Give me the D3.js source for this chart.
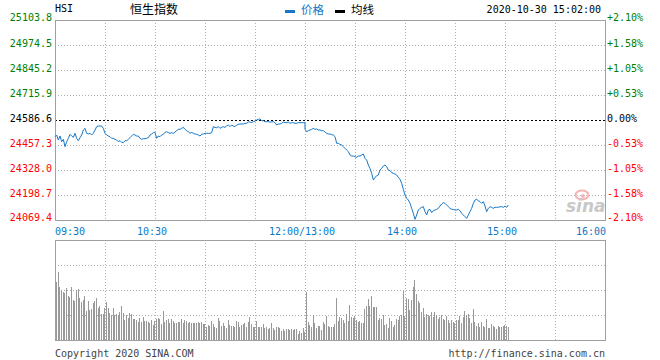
<!DOCTYPE html>
<html>
<head>
<meta charset="utf-8">
<script src="https://cdn.jsdelivr.net/npm/d3@7/dist/d3.min.js"></script>
<style>
html,body{margin:0;padding:0;background:#fff;}
svg{display:block;}
</style>
</head>
<body>
<svg id="chart" width="660" height="360"></svg>
<script>
// ---- DATA ----
const symbol = "HSI";
const title = "恒生指数";
const timestamp = "2020-10-30 15:02:00";
const prevClose = 24586.6;
const priceTicks = ["25103.8","24974.5","24845.2","24715.9","24586.6","24457.3","24328.0","24198.7","24069.4"];
const pctTicks = ["+2.10%","+1.58%","+1.05%","+0.53%","0.00%","-0.53%","-1.05%","-1.58%","-2.10%"];
const timeTicks = ["09:30","10:30","12:00/13:00","14:00","15:00","16:00"];
const timeTickMinutes = [0, 60, 150, 210, 270, 330];

// 09:30 - 12:00, one value per minute
const morningPrice = [
24500.4,24509.0,24483.2,24503.8,24474.5,24486.6,24448.7,24474.5,24491.8,24512.5,
24503.8,24496.9,24517.6,24491.8,24479.7,24495.2,24509.0,24534.9,24543.5,24517.6,
24514.2,24517.6,24509.0,24517.6,24534.9,24552.1,24555.5,24555.5,24555.5,24543.5,
24517.6,24509.0,24503.8,24500.4,24491.8,24491.8,24486.6,24483.2,24474.5,24479.7,
24471.1,24469.4,24479.7,24479.7,24486.6,24495.2,24503.8,24512.5,24509.0,24503.8,
24503.8,24491.8,24486.6,24490.0,24490.0,24491.8,24495.2,24509.0,24514.2,24521.1,
24522.8,24491.8,24503.8,24500.4,24509.0,24512.5,24522.8,24526.2,24521.1,24517.6,
24521.1,24517.6,24524.5,24531.4,24538.3,24538.3,24543.5,24548.6,24538.3,24531.4,
24526.2,24517.6,24522.8,24517.6,24514.2,24512.5,24509.0,24503.8,24512.5,24514.2,
24517.6,24517.6,24517.6,24517.6,24521.1,24552.1,24548.6,24546.9,24552.1,24543.5,
24548.6,24552.1,24548.6,24555.5,24560.7,24552.1,24560.7,24555.5,24552.1,24560.7,
24564.2,24565.9,24565.9,24565.9,24569.4,24569.4,24576.3,24576.3,24572.8,24578.0,
24581.4,24586.6,24590.0,24591.8,24583.1,24583.1,24578.0,24578.0,24578.0,24576.3,
24576.3,24578.0,24572.8,24560.7,24565.9,24565.9,24569.4,24576.3,24572.8,24572.8,
24576.3,24569.4,24572.8,24572.8,24569.4,24569.4,24572.8,24572.8,24572.8,24572.8,
24572.8];
// 13:00 - 15:02, one value per minute
const afternoonPrice = [
24538.3,24526.2,24531.4,24534.9,24538.3,24543.5,24538.3,24540.0,24534.9,24534.9,
24531.4,24531.4,24524.5,24517.6,24514.2,24514.2,24510.7,24509.0,24500.4,24465.9,
24465.9,24460.7,24457.3,24448.7,24440.0,24431.4,24422.8,24405.5,24400.4,24400.4,
24396.9,24393.5,24400.4,24400.4,24405.5,24410.7,24388.3,24379.7,24353.9,24336.6,
24310.8,24276.3,24290.0,24296.9,24302.1,24328.0,24336.6,24348.7,24353.9,24345.2,
24328.0,24324.5,24314.2,24310.8,24307.3,24302.1,24290.0,24279.7,24259.0,24228.0,
24198.7,24181.5,24172.8,24155.6,24129.7,24103.9,24072.8,24095.2,24121.1,24129.7,
24134.9,24138.3,24112.5,24095.2,24121.1,24124.5,24107.3,24117.6,24121.1,24124.5,
24129.7,24141.8,24152.1,24159.0,24155.6,24146.9,24138.3,24129.7,24124.5,24124.5,
24121.1,24121.1,24124.5,24117.6,24103.9,24095.2,24086.6,24078.0,24095.2,24112.5,
24129.7,24155.6,24172.8,24176.3,24169.4,24164.2,24155.6,24164.2,24141.8,24112.5,
24129.7,24138.3,24134.9,24129.7,24134.9,24134.9,24134.9,24138.3,24138.3,24134.9,
24141.8,24134.9,24146.9];

// volume per minute (relative units, panel max = 100)
const morningVolume = [
58.3,68.3,53.3,50,48.3,46.7,51.7,44,43.3,53.3,
40,39.3,50,50.7,41.7,38.3,40,44,29.3,39.3,
30,31,36.7,39,41.7,31.7,34,26,26,31.7,
38.3,31.7,27.3,25,31.7,25,26,25,28.3,34,
26.7,20,25,21.7,27.3,26,21,21,20,18.3,
21.7,18.3,23.3,19,19,17.7,17.3,20,15,19.3,
21,22.3,20.7,16,29.3,18.3,20,21,16.7,21,
19,16.7,16.7,18.3,18.3,21,17.3,20,19,17.3,
18.3,16.7,17.3,16.7,17.3,18.3,16.7,17.7,16,16,
12.7,15,14,19,16,12.7,11.7,21.7,19,14,
16.7,14,11.7,20,15,14,14,12.7,19,18.3,
13.3,15,16,16.7,12.7,18.3,22.7,16,13.3,13.3,
19,12.7,12.7,12.7,16,11.7,12.7,10.7,11.7,16.7,
11.7,10,12.7,12.7,11.7,9,10.7,9.3,10.7,10.7,
10,10.7,10,10.7,10.7,6,9.3,6.7,11.7,8.3];
const afternoonVolume = [
48.3,18.3,15,12.7,25,17.3,11.7,14,14,10,
18.3,16,24,14,12.7,12.7,12.7,16,41.7,19.3,
22.7,21.7,20,16.7,26,19.3,35,23.3,21.7,24,
20,18.3,19.3,17.3,16.7,30.7,34,40.7,34,44,
32.7,33.3,32.7,20,21.7,20.7,25,15,16,11.7,
21.7,19,12.7,15,20.7,20,24,25,49.3,24,
41.7,40.7,30,40,52.7,60,46,39.3,36.7,28.3,
31.7,22.7,26,25,24,28.3,23.3,28.3,25,20.7,
22.7,25,20.7,20,24,20,16.7,20,18.3,17.3,
20,20,24,17.3,23.3,29.3,25,26,21.7,16.7,
31,18.3,14,16.7,12.7,18.3,14,12.7,21,11.7,
12.3,16,14,12.7,10.7,14,12.7,12.7,14,15,
14,12.7];

// ---- LAYOUT ----
const L = 55, R = 605;
const mainTop = 20, mainBot = 220;
const volTop = 240, volBot = 340;
const LINE = "#1677c8", TIMECOL = "#0c78c4", GRID = "#b0b0b0", BORDER = "#a0a0a0";
const GREEN = "#008000", RED = "#ff0000";
const MONO = "'DejaVu Sans Mono', 'Liberation Mono', monospace";
const CJK = "'Noto Sans CJK SC', sans-serif";

const svg = d3.select("#chart");
const x = d3.scaleLinear().domain([0, 330]).range([L, R]);
const y = d3.scaleLinear().domain([+priceTicks[8], +priceTicks[0]]).range([mainBot, mainTop]);
const yv = d3.scaleLinear().domain([0, 100]).range([volBot, volTop]);

const pricePts = morningPrice.map((p, i) => ({m: i, p}))
  .concat(afternoonPrice.map((p, i) => ({m: 150 + i, p})));
const volPts = morningVolume.map((v, i) => ({m: i, v}))
  .concat(afternoonVolume.map((v, i) => ({m: 150 + i, v})));

const gridMinutes = d3.range(30, 330, 30);

// ---- MAIN PANEL GRID ----
const gMain = svg.append("g");
gMain.selectAll("line.vg").data(gridMinutes).join("line")
  .attr("x1", d => Math.round(x(d)) + 0.5).attr("x2", d => Math.round(x(d)) + 0.5)
  .attr("y1", mainTop).attr("y2", mainBot)
  .attr("stroke", GRID).attr("stroke-dasharray", "1,2");
priceTicks.forEach((t, i) => {
  if (i === 0 || i === 8 || i === 4) return;
  const yy = Math.round(y(+t)) + 0.5;
  gMain.append("line").attr("x1", L).attr("x2", R).attr("y1", yy).attr("y2", yy)
    .attr("stroke", GRID).attr("stroke-dasharray", "1,2");
});
// prev close dashed
gMain.append("line").attr("x1", L).attr("x2", R)
  .attr("y1", Math.round(y(prevClose)) + 0.5).attr("y2", Math.round(y(prevClose)) + 0.5)
  .attr("stroke", "#000").attr("stroke-dasharray", "2,2");

// watermark
const wm = svg.append("g");
wm.append("ellipse").attr("cx", 582).attr("cy", 195).attr("rx", 6.5).attr("ry", 4.5)
  .attr("fill", "none").attr("stroke", "#f4b4b4").attr("stroke-width", 2);
wm.append("circle").attr("cx", 583).attr("cy", 196).attr("r", 2).attr("fill", "#f4b4b4");
wm.append("text").attr("x", 566).attr("y", 212).text("sina")
  .attr("font-family", "'DejaVu Sans', sans-serif").attr("font-style", "italic").attr("font-weight", "bold")
  .attr("font-size", 17).attr("fill", "#c8c8c8");

// border main
svg.append("rect").attr("x", L + 0.5).attr("y", mainTop + 0.5).attr("width", R - L).attr("height", mainBot - mainTop)
  .attr("fill", "none").attr("stroke", BORDER);

// price line
svg.append("path").datum(pricePts)
  .attr("d", d3.line().x(d => x(d.m)).y(d => y(d.p)))
  .attr("fill", "none").attr("stroke", LINE).attr("stroke-width", 1);

// left / right axis labels
priceTicks.forEach((t, i) => {
  const yy = y(+t);
  const by = i === 0 ? yy + 0.5 : (i === 8 ? yy + 1 : yy + 2);
  const col = i < 4 ? GREEN : (i === 4 ? "#000" : RED);
  svg.append("text").attr("x", 52).attr("y", by).attr("text-anchor", "end")
    .attr("font-family", MONO).attr("font-size", 10).attr("fill", col).text(t);
  svg.append("text").attr("x", 607).attr("y", by).attr("text-anchor", "start")
    .attr("font-family", MONO).attr("font-size", 10).attr("fill", col).text(pctTicks[i]);
});

// time labels
timeTicks.forEach((t, i) => {
  const m = timeTickMinutes[i];
  let anchor = "middle", xx = x(m) - 3;
  if (i === 0) { anchor = "start"; xx = x(m); }
  if (i === timeTicks.length - 1) { anchor = "end"; xx = x(m) + 1; }
  svg.append("text").attr("x", xx).attr("y", 235).attr("text-anchor", anchor)
    .attr("font-family", MONO).attr("font-size", 10).attr("fill", TIMECOL).text(t);
});

// ---- VOLUME PANEL ----
const gVol = svg.append("g");
gVol.selectAll("line.vg").data(gridMinutes).join("line")
  .attr("x1", d => Math.round(x(d)) + 0.5).attr("x2", d => Math.round(x(d)) + 0.5)
  .attr("y1", volTop).attr("y2", volBot)
  .attr("stroke", GRID).attr("stroke-dasharray", "1,2");
[25, 50, 75].forEach(v => {
  const yy = Math.round(yv(v)) + 0.5;
  gVol.append("line").attr("x1", L).attr("x2", R).attr("y1", yy).attr("y2", yy)
    .attr("stroke", GRID).attr("stroke-dasharray", "1,2");
});
gVol.selectAll("rect.bar").data(volPts).join("rect")
  .attr("x", d => Math.round(x(d.m)) + 1).attr("width", 1)
  .attr("y", d => Math.round(yv(d.v))).attr("height", d => volBot - Math.round(yv(d.v)))
  .attr("fill", "#999").attr("shape-rendering", "crispEdges");
svg.append("rect").attr("x", L + 0.5).attr("y", volTop + 0.5).attr("width", R - L).attr("height", volBot - volTop)
  .attr("fill", "none").attr("stroke", BORDER);

// ---- HEADER ----
svg.append("text").attr("x", 55).attr("y", 12).attr("font-family", MONO).attr("font-size", 10)
  .attr("fill", "#000").text(symbol);
svg.append("text").attr("x", 130).attr("y", 14).attr("font-family", CJK).attr("font-size", 12)
  .attr("fill", "#000").text(title);
svg.append("rect").attr("x", 285).attr("y", 10).attr("width", 10).attr("height", 3).attr("fill", LINE);
svg.append("text").attr("x", 301).attr("y", 14).attr("font-family", CJK).attr("font-size", 11.5)
  .attr("fill", LINE).text("价格");
svg.append("rect").attr("x", 335).attr("y", 10).attr("width", 10).attr("height", 3).attr("fill", "#000");
svg.append("text").attr("x", 351).attr("y", 14).attr("font-family", CJK).attr("font-size", 11.5)
  .attr("fill", "#000").text("均线");
svg.append("text").attr("x", 601).attr("y", 13).attr("text-anchor", "end")
  .attr("font-family", MONO).attr("font-size", 10).attr("fill", "#000").text(timestamp);

// ---- FOOTER ----
svg.append("text").attr("x", 55).attr("y", 357).attr("font-family", MONO).attr("font-size", 10)
  .attr("fill", "#444").text("Copyright 2020 SINA.COM");
svg.append("text").attr("x", 605).attr("y", 357).attr("text-anchor", "end").attr("font-family", MONO).attr("font-size", 10)
  .attr("fill", "#444").text("http://finance.sina.com.cn");
</script>
</body>
</html>
